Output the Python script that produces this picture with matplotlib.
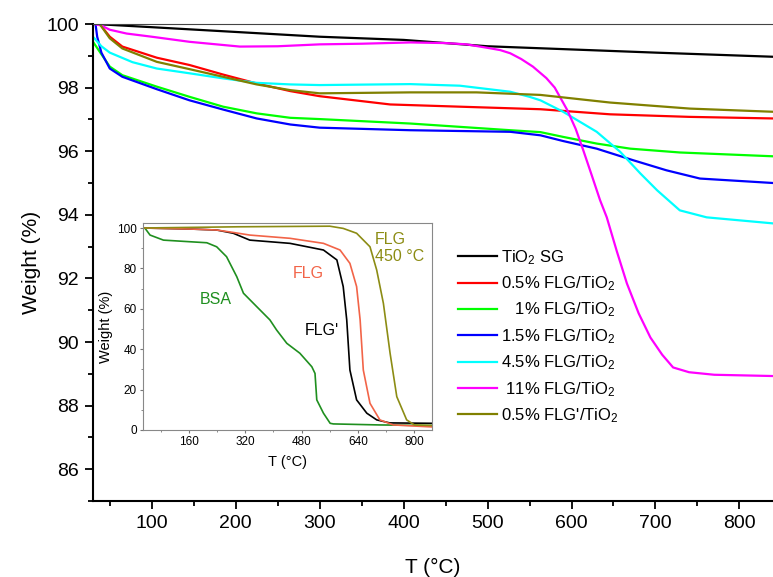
import numpy as np
import matplotlib
matplotlib.use("Agg")
import matplotlib.pyplot as plt
from matplotlib.ticker import MultipleLocator

plt.rcParams['font.family'] = ['Liberation Sans', 'DejaVu Sans']
plt.rcParams['mathtext.default'] = 'regular'

# main TGA curves (T in degC, weight in %)
t_sg = [32, 100, 200, 300, 400, 500, 600, 700, 840]
w_sg = [100, 99.9, 99.75, 99.6, 99.5, 99.3, 99.2, 99.1, 98.97]

t_05 = [38, 50, 65, 106, 145, 185, 225, 265, 300, 384, 467, 563, 646, 740, 840]
w_05 = [100, 99.6, 99.29, 98.94, 98.71, 98.41, 98.13, 97.89, 97.73, 97.47, 97.4, 97.32, 97.16, 97.08, 97.03]

t_1 = [30, 50, 65, 106, 145, 185, 225, 265, 300, 408, 527, 563, 590, 630, 670, 729, 840]
w_1 = [99.44, 98.66, 98.39, 98.03, 97.71, 97.4, 97.19, 97.05, 97.01, 96.87, 96.66, 96.6, 96.45, 96.24, 96.08, 95.96, 95.84]

t_15 = [33, 35, 40, 50, 65, 106, 145, 185, 225, 265, 300, 408, 527, 563, 590, 630, 673, 713, 753, 840]
w_15 = [100, 99.6, 99.1, 98.6, 98.34, 97.95, 97.6, 97.31, 97.03, 96.84, 96.74, 96.66, 96.61, 96.5, 96.32, 96.08, 95.72, 95.4, 95.14, 95.0]

t_45 = [30, 40, 50, 77, 106, 145, 185, 225, 265, 300, 408, 467, 527, 550, 563, 590, 630, 658, 682, 702, 729, 761, 840]
w_45 = [99.6, 99.3, 99.1, 98.8, 98.6, 98.45, 98.29, 98.15, 98.1, 98.08, 98.11, 98.06, 97.87, 97.71, 97.6, 97.24, 96.61, 95.98, 95.3, 94.77, 94.14, 93.92, 93.73]

t_11 = [32, 40, 50, 70, 100, 145, 205, 250, 300, 350, 408, 450, 475, 500, 515, 527, 540, 554, 570, 580, 595, 605, 614, 624, 634, 642, 654, 666, 680, 694, 708, 721, 740, 770, 840]
w_11 = [100, 99.95, 99.82, 99.7, 99.6, 99.44, 99.29, 99.3, 99.36, 99.38, 99.42, 99.4, 99.36, 99.25, 99.18, 99.08, 98.9, 98.66, 98.3, 98.0, 97.29, 96.7, 96.03, 95.25, 94.46, 93.92, 92.85, 91.84, 90.9, 90.14, 89.6, 89.2, 89.05, 88.97, 88.93]

t_05p = [38, 50, 65, 106, 145, 185, 225, 265, 300, 408, 487, 563, 646, 741, 840]
w_05p = [100, 99.55, 99.23, 98.81, 98.58, 98.34, 98.1, 97.92, 97.82, 97.85, 97.85, 97.77, 97.53, 97.34, 97.24]

labels = ['TiO$_2$ SG', '0.5% FLG/TiO$_2$', '   1% FLG/TiO$_2$', '1.5% FLG/TiO$_2$',
          '4.5% FLG/TiO$_2$', ' 11% FLG/TiO$_2$', "0.5% FLG'/TiO$_2$"]
colors = ['black', 'red', '#00ff00', 'blue', 'cyan', 'magenta', '#808000']

# inset curves
ti_bsa = [30, 36, 50, 88, 163, 211, 239, 267, 296, 315, 353, 390, 409, 438, 475, 509, 518, 523, 542, 561, 570, 700, 850]
wi_bsa = [100, 99.8, 96.5, 94, 93.2, 92.7, 90.7, 85.8, 75.9, 67.7, 61, 54.5, 49.5, 42.9, 38, 31.3, 28, 14.9, 8.3, 3.3, 3.0, 2.5, 2.2]
ti_flgp = [30, 163, 239, 286, 333, 447, 542, 580, 598, 608, 617, 636, 665, 693, 730, 850]
wi_flgp = [100, 99.5, 99, 97.4, 94, 92.4, 89.1, 84.2, 71, 54.5, 29.7, 14.9, 8.3, 5, 3.5, 3.3]
ti_flg = [30, 163, 239, 286, 333, 447, 542, 589, 617, 636, 646, 655, 674, 702, 740, 850]
wi_flg = [100, 99.5, 99, 97.8, 96.5, 94.9, 92.4, 89.1, 82.5, 71, 54.5, 29.7, 13.2, 5, 2.5, 1.5]
ti_450 = [30, 163, 300, 560, 598, 636, 674, 693, 712, 731, 750, 778, 800, 850]
wi_450 = [100, 100.3, 100.6, 100.9, 99.8, 97.4, 90.7, 79.2, 62.7, 38, 16.5, 5, 2.5, 2.2]

fig = plt.figure(figsize=(7.73, 5.77), dpi=100)
ax = fig.add_axes([0.1203, 0.1317, 0.8797, 0.8267])

series = [(t_sg, w_sg), (t_05, w_05), (t_1, w_1), (t_15, w_15),
          (t_45, w_45), (t_11, w_11), (t_05p, w_05p)]
for (t, w), lab, c in zip(series, labels, colors):
    ax.plot(t, w, color=c, lw=1.6, label=lab)

ax.set_xlim(30, 840)
ax.set_ylim(85, 100)
ax.set_xticks(range(100, 801, 100))
ax.set_yticks(range(86, 101, 2))
ax.xaxis.set_minor_locator(MultipleLocator(50))
ax.yaxis.set_minor_locator(MultipleLocator(1))
ax.tick_params(which='major', direction='out', length=6, width=1.3, labelsize=14, pad=4)
ax.tick_params(which='minor', direction='out', length=3.5, width=1.3)
ax.spines['right'].set_visible(False)
ax.spines['top'].set_color('#444444')
for s in ['left', 'bottom']:
    ax.spines[s].set_linewidth(1.5)
ax.set_xlabel('T (°C)', fontsize=15, labelpad=19)
ax.set_ylabel('Weight (%)', fontsize=15, labelpad=4)

fig.legend(loc='upper left', bbox_to_anchor=(458 / 773, 1 - 248 / 577), frameon=False,
           fontsize=12, handlelength=2.34, handletextpad=0.24, labelspacing=0.46,
           borderpad=0, borderaxespad=0)

# inset
axi = fig.add_axes([0.185, 0.2548, 0.3739, 0.3588])
axi.plot(ti_bsa, wi_bsa, color='#1f8f1f', lw=1.2)
axi.plot(ti_flgp, wi_flgp, color='black', lw=1.2)
axi.plot(ti_flg, wi_flg, color='#f26448', lw=1.2)
axi.plot(ti_450, wi_450, color='#8c8c14', lw=1.2)
axi.set_xlim(30, 850)
axi.set_ylim(0, 102.5)
axi.set_xticks([160, 320, 480, 640, 800])
axi.xaxis.set_minor_locator(MultipleLocator(80))
axi.set_yticks(range(0, 101, 20))
axi.yaxis.set_minor_locator(MultipleLocator(10))
axi.tick_params(which='major', direction='out', length=2.5, labelsize=8.5, pad=2, color='#777777')
axi.tick_params(which='minor', direction='out', length=1.5, color='#777777')
for s in axi.spines.values():
    s.set_color('#888888')
axi.set_xlabel('T (°C)', fontsize=10.5, labelpad=5)
axi.set_ylabel('Weight (%)', fontsize=10.5, labelpad=3)
axi.text(237, 64.4, 'BSA', color='#1f8f1f', fontsize=11.5, ha='center', va='center')
axi.text(498, 77.7, 'FLG', color='#f26448', fontsize=11.5, ha='center', va='center')
axi.text(538, 49.5, "FLG'", color='black', fontsize=11.5, ha='center', va='center')
axi.text(688, 90, 'FLG\n450 °C', color='#8c8c14', fontsize=11.5, ha='left', va='center',
         linespacing=1.15)

fig.savefig('out.png', dpi=100)
